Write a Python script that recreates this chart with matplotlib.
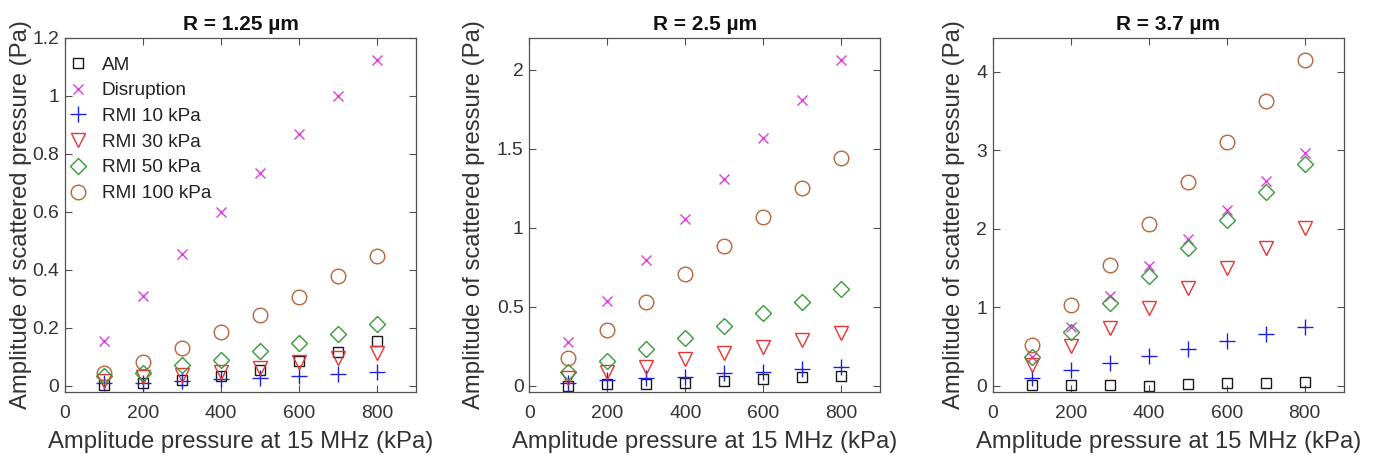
import matplotlib
matplotlib.use("Agg")
import matplotlib.pyplot as plt
from matplotlib.ticker import FuncFormatter

plt.rcParams['font.family'] = ['Liberation Sans', 'DejaVu Sans']

x = [100, 200, 300, 400, 500, 600, 700, 800]

titles = ["R = 1.25 µm", "R = 2.5 µm", "R = 3.7 µm"]
series_names = ["AM", "Disruption", "RMI 10 kPa", "RMI 30 kPa", "RMI 50 kPa", "RMI 100 kPa"]

# R = 1.25 um
am_1 = [0.002, 0.008, 0.02, 0.032, 0.054, 0.086, 0.115, 0.155]
dis_1 = [0.155, 0.31, 0.455, 0.60, 0.735, 0.87, 1.0, 1.125]
rmi10_1 = [0.008, 0.01, 0.016, 0.022, 0.028, 0.033, 0.04, 0.048]
rmi30_1 = [0.015, 0.03, 0.036, 0.046, 0.062, 0.082, 0.097, 0.114]
rmi50_1 = [0.033, 0.045, 0.07, 0.09, 0.118, 0.146, 0.178, 0.213]
rmi100_1 = [0.043, 0.083, 0.131, 0.184, 0.244, 0.307, 0.377, 0.449]

# R = 2.5 um
am_2 = [0.0, 0.008, 0.01, 0.02, 0.027, 0.04, 0.053, 0.063]
dis_2 = [0.275, 0.536, 0.798, 1.054, 1.31, 1.567, 1.81, 2.06]
rmi10_2 = [0.015, 0.036, 0.046, 0.057, 0.078, 0.089, 0.103, 0.116]
rmi30_2 = [0.046, 0.089, 0.12, 0.167, 0.205, 0.247, 0.289, 0.332]
rmi50_2 = [0.089, 0.158, 0.23, 0.304, 0.38, 0.458, 0.532, 0.61]
rmi100_2 = [0.177, 0.353, 0.528, 0.707, 0.887, 1.069, 1.254, 1.438]

# R = 3.7 um
am_3 = [0.01, 0.01, 0.01, 0.0, 0.02, 0.04, 0.03, 0.05]
dis_3 = [0.37, 0.754, 1.137, 1.52, 1.874, 2.245, 2.607, 2.96]
rmi10_3 = [0.094, 0.2, 0.285, 0.379, 0.473, 0.567, 0.66, 0.745]
rmi30_3 = [0.264, 0.5, 0.74, 0.99, 1.244, 1.5, 1.755, 2.01]
rmi50_3 = [0.36, 0.69, 1.05, 1.40, 1.755, 2.11, 2.47, 2.83]
rmi100_3 = [0.52, 1.03, 1.54, 2.06, 2.59, 3.11, 3.63, 4.15]

panels = [
    [am_1, dis_1, rmi10_1, rmi30_1, rmi50_1, rmi100_1],
    [am_2, dis_2, rmi10_2, rmi30_2, rmi50_2, rmi100_2],
    [am_3, dis_3, rmi10_3, rmi30_3, rmi50_3, rmi100_3],
]

xticks = [0, 200, 400, 600, 800]
yticks_list = [[0, 0.2, 0.4, 0.6, 0.8, 1.0, 1.2],
               [0, 0.5, 1.0, 1.5, 2.0],
               [0, 1, 2, 3, 4]]
ylims = [(-0.022, 1.2), (-0.04, 2.2), (-0.08, 4.43)]

styles = [
    dict(marker='s', color='#1a1a1a', ms=7.5),
    dict(marker='x', color='#e03ce0', ms=7.5),
    dict(marker='+', color='#2020e0', ms=11),
    dict(marker='v', color='#e83434', ms=10),
    dict(marker='D', color='#3a9a3a', ms=8.5),
    dict(marker='o', color='#b8643c', ms=10.5),
]

fig = plt.figure(figsize=(13.83, 4.63), dpi=100)
lefts = [65 / 1383, 529.3 / 1383, 992.7 / 1383]
w = 351 / 1383
b = 71 / 463
h = 354 / 463
ylabel_x = [-0.094, -0.126, -0.079]

axcol = '#505050'
txtcol = '#333333'

def fmt(v, pos):
    return '%g' % v

for i in range(3):
    ax = fig.add_axes([lefts[i], b, w, h])
    for data, name, st in zip(panels[i], series_names, styles):
        ax.plot(x, data, linestyle='none', marker=st['marker'], ms=st['ms'],
                mfc='none', mec=st['color'], mew=1.0, label=name)
    ax.set_xlim(0, 900)
    ax.set_ylim(*ylims[i])
    ax.set_xticks(xticks)
    ax.set_yticks(yticks_list[i])
    ax.yaxis.set_major_formatter(FuncFormatter(fmt))
    ax.tick_params(direction='in', length=5, width=0.8, top=True, right=True,
                   labelsize=13.9, colors=axcol, labelcolor=txtcol)
    ax.tick_params(axis='x', pad=9.6)
    ax.tick_params(axis='y', pad=4.0)
    for sp in ax.spines.values():
        sp.set_color(axcol)
        sp.set_linewidth(0.9)
    ax.set_title(titles[i], fontsize=15, fontweight='bold', color='#111111', pad=5.5)
    ax.set_xlabel("Amplitude pressure at 15 MHz (kPa)", fontsize=17.2, color=txtcol)
    ax.xaxis.set_label_coords(0.5, -0.11)
    ax.set_ylabel("Amplitude of scattered pressure (Pa)", fontsize=17.2, color=txtcol)
    ax.yaxis.set_label_coords(ylabel_x[i], 0.5)
    if i == 0:
        ax.legend(loc='upper left', bbox_to_anchor=(0.015, 0.948), frameon=False,
                  fontsize=13.7, handletextpad=0.85, borderaxespad=0.0,
                  labelspacing=0.44, handlelength=0.8, borderpad=0.0,
                  labelcolor='#222222')

fig.savefig("out.png", dpi=100)
